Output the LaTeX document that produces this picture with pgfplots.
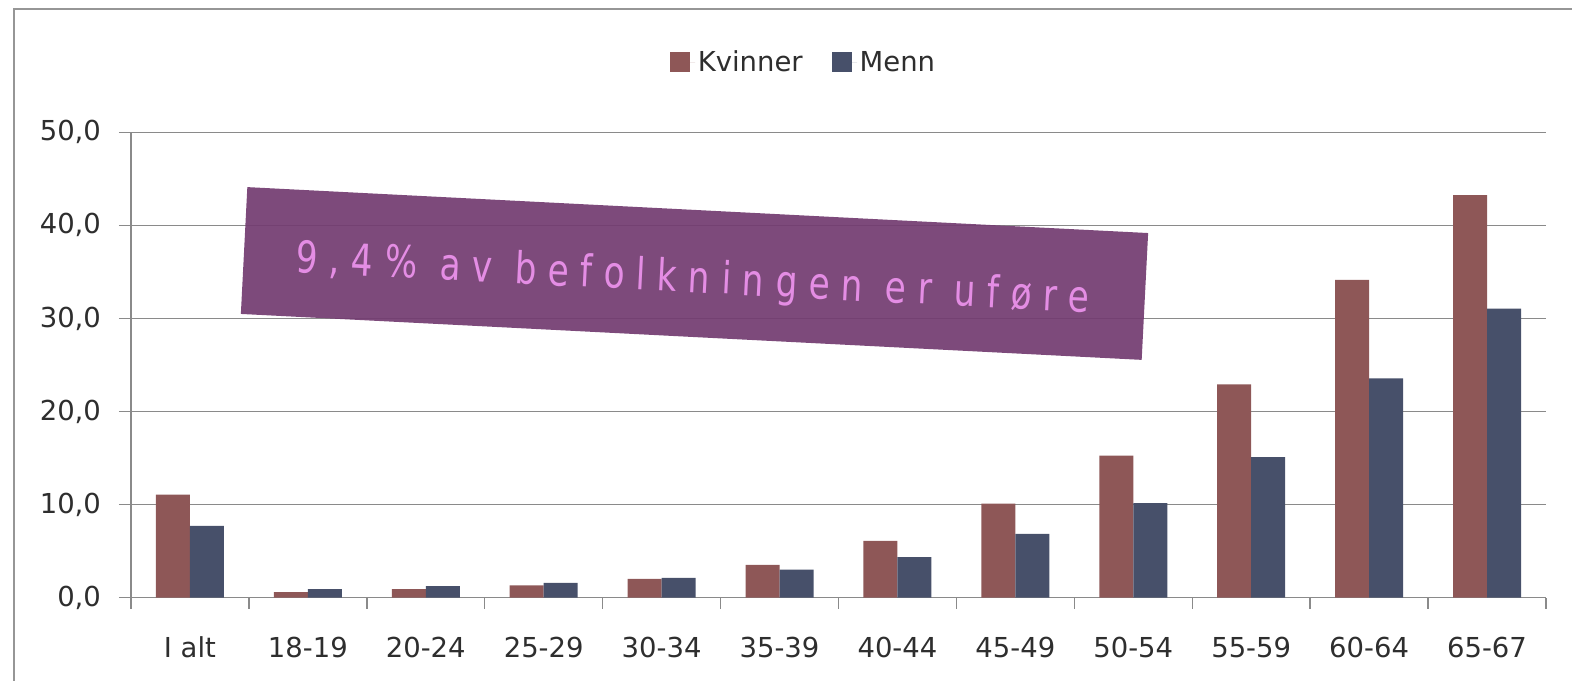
\documentclass[border=0pt]{standalone}
\usepackage{pgfplots}
\pgfplotsset{compat=1.18}
\usepackage{fontspec}
\setmainfont{DejaVu Sans}
\newfontfamily\bannerfont[FakeStretch=0.78,LetterSpace=26]{DejaVu Sans}
\definecolor{kv}{HTML}{8E5757}
\definecolor{me}{HTML}{47506A}
\definecolor{gridc}{HTML}{8A8A8A}
\definecolor{banner}{HTML}{733C71}
\definecolor{btext}{HTML}{E48DE4}
\definecolor{lab}{HTML}{2E2E2E}
\begin{document}
\begin{tikzpicture}[x=0.75pt,y=0.75pt]
\useasboundingbox (0,0) rectangle (1572,681);
\draw[gridc!90, line width=1.3pt] (14,-5) -- (14,672) -- (1580,672);
\begin{axis}[
  at={(98.25pt,62.6pt)}, anchor=south west,
  scale only axis, width=1061.25pt, height=348.9pt,
  xmin=-0.5, xmax=11.5, ymin=0, ymax=50,
  ybar=0pt, bar width=25.5pt,
  axis x line=bottom, axis y line=left,
  axis line style={gridc, line width=1.1pt, -},
  ymajorgrids, grid style={gridc, line width=1.1pt},
  ytick={0,10,20,30,40,50},
  xtick={0,1,2,3,4,5,6,7,8,9,10,11},
  minor xtick={-0.5,0.5,1.5,2.5,3.5,4.5,5.5,6.5,7.5,8.5,9.5,10.5,11.5},
  xticklabels={I alt,18-19,20-24,25-29,30-34,35-39,40-44,45-49,50-54,55-59,60-64,65-67},
  tick align=outside, major tick length=9pt, minor tick length=8.25pt,
  tick style={gridc, line width=1.1pt},
  major x tick style={draw=none},
  /pgf/number format/assume math mode=true,
  yticklabel style={/pgf/number format/fixed, /pgf/number format/fixed zerofill,
    /pgf/number format/precision=1, /pgf/number format/use comma,
    text=lab, font=\fontsize{20.6}{24}\selectfont, xshift=-10pt},
  xticklabel style={text=lab, font=\fontsize{20.6}{24}\selectfont, yshift=-17pt},
  legend style={at={(0.4756,1.151)}, anchor=center, draw=none, fill=none,
    legend columns=2, font=\fontsize{20.6}{24}\selectfont, text=lab,
    /tikz/every even column/.append style={column sep=20pt}},
  legend image code/.code={\fill[#1] (0pt,-7.5pt) rectangle (15pt,7.5pt);\path (0pt,0pt) -- (18.75pt,0pt);},
]
\addplot[fill=kv, draw=none] coordinates {(0,11.05) (1,0.58) (2,0.9) (3,1.3) (4,2.0) (5,3.5) (6,6.1) (7,10.1) (8,15.25) (9,22.9) (10,34.15) (11,43.25)};
\addplot[fill=me, draw=none] coordinates {(0,7.7) (1,0.9) (2,1.22) (3,1.58) (4,2.1) (5,3.0) (6,4.35) (7,6.83) (8,10.15) (9,15.1) (10,23.55) (11,31.05)};
\legend{Kvinner,Menn}
\end{axis}
\node[rotate=-2.92, fill=banner, fill opacity=0.93, minimum width=676.5pt, minimum height=95.25pt, inner sep=0pt] at (694.5,407.5) {};
\node[rotate=-2.92, anchor=base, inner sep=0pt, text=btext, font=\bannerfont\fontsize{33}{40}\selectfont] at (692,388.5) {9,4\% av befolkningen er uføre};
\end{tikzpicture}
\end{document}
